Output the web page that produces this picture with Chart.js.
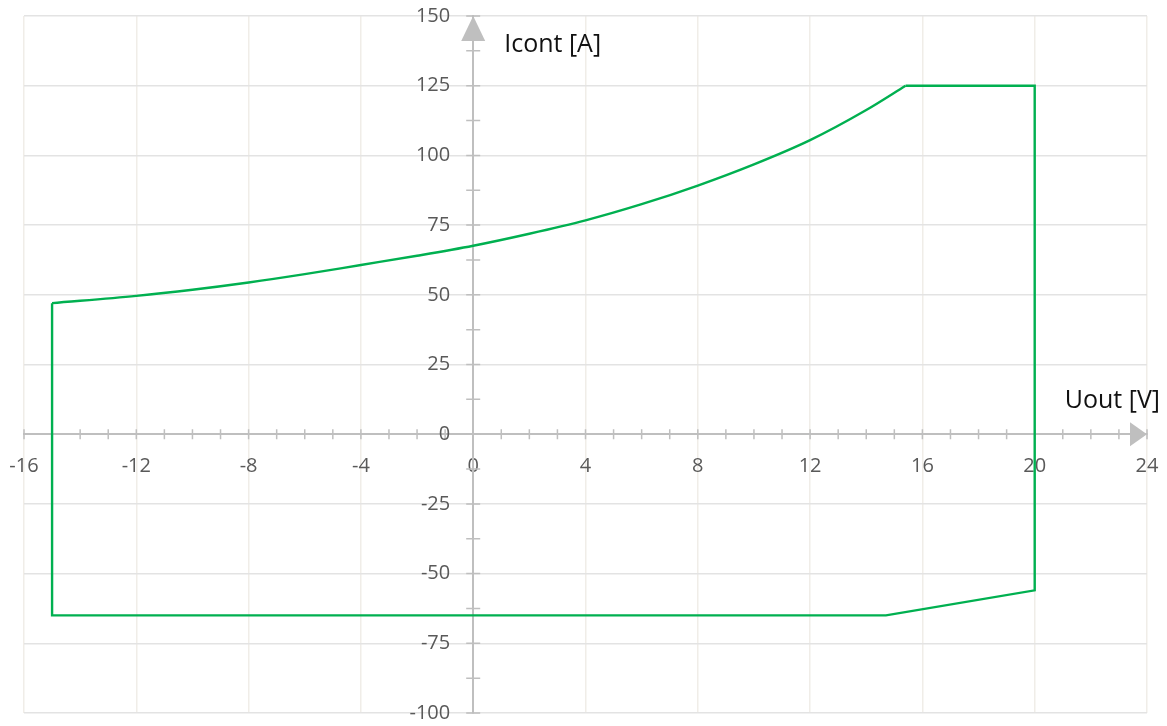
<!DOCTYPE html>
<html>
<head>
<meta charset="utf-8">
<script src="https://cdn.jsdelivr.net/npm/chart.js@4"></script>
<style>
  html, body { margin: 0; padding: 0; background: #fff; }
  #wrap { width: 1167px; height: 726px; }
</style>
</head>
<body>
<div id="wrap"><canvas id="chart"></canvas></div>
<script>
// upper curve (Icont vs Uout)
const curveU = [-15, -12, -10, -8, -6, -4, -2, 0, 2, 4, 6, 8, 10, 12, 14, 15.4];
const curveI = [47, 49.6, 51.8, 54.4, 57.4, 60.7, 64.0, 67.6, 71.9, 76.7, 82.5, 89.2, 96.8, 105.5, 116.3, 125];

// the straight part of the envelope
const outlineU = [15.4, 20, 20, 14.7, -15, -15];
const outlineI = [125, 125, -56, -65, -65, 47];

const uRange = [-16, 24];
const iRange = [-100, 150];
const uStep = 4;
const iStep = 25;
const uTitle = "Uout [V]";
const iTitle = "Icont [A]";

const green = "#00b050";
const axisGrey = "#bfbfbf";
const labelGrey = "#595959";
const fontFamily = '"Open Sans", "Liberation Sans", sans-serif';

function toPoints(xs, ys) {
  return xs.map((x, i) => ({ x: x, y: ys[i] }));
}

// centred axes should not eat into the plot area
function noPadding(scale) {
  scale.paddingLeft = 0;
  scale.paddingRight = 0;
  scale.paddingTop = 0;
  scale.paddingBottom = 0;
}

const axisDecor = {
  id: "axisDecor",
  beforeDatasetsDraw(chart) {
    const { ctx, scales } = chart;
    const sx = scales.x;
    const sy = scales.y;
    const x0 = sx.getPixelForValue(0);
    const y0 = sy.getPixelForValue(0);
    ctx.save();
    ctx.strokeStyle = axisGrey;
    ctx.lineWidth = 1.5;
    ctx.beginPath();
    // minor + major tick marks crossing the axes
    for (let u = uRange[0]; u <= uRange[1]; u += 1) {
      const px = sx.getPixelForValue(u);
      ctx.moveTo(px, y0 - 5);
      ctx.lineTo(px, y0 + 5);
    }
    for (let v = iRange[0]; v <= iRange[1]; v += iStep / 2) {
      const py = sy.getPixelForValue(v);
      ctx.moveTo(x0 - 7, py);
      ctx.lineTo(x0 + 7, py);
    }
    ctx.stroke();

    // arrow heads
    ctx.fillStyle = axisGrey;
    ctx.beginPath();
    ctx.moveTo(x0, sy.top);
    ctx.lineTo(x0 - 12, sy.top + 25);
    ctx.lineTo(x0 + 12, sy.top + 25);
    ctx.closePath();
    ctx.fill();
    ctx.beginPath();
    ctx.moveTo(sx.right, y0);
    ctx.lineTo(sx.right - 17, y0 - 12);
    ctx.lineTo(sx.right - 17, y0 + 12);
    ctx.closePath();
    ctx.fill();

    // y tick labels, left of the centred axis
    ctx.fillStyle = labelGrey;
    ctx.font = "20px " + fontFamily;
    ctx.textAlign = "right";
    ctx.textBaseline = "middle";
    sy.ticks.forEach((t) => {
      ctx.fillText(String(t.value), x0 - 23, sy.getPixelForValue(t.value));
    });

    // axis titles
    ctx.fillStyle = "#111";
    ctx.font = "25px " + fontFamily;
    ctx.textAlign = "left";
    ctx.fillText(iTitle, x0 + 31, sy.top + 29);
    ctx.textAlign = "right";
    ctx.fillText(uTitle, sx.right + 13, y0 - 33);
    ctx.restore();
  },
};

const ctx = document.getElementById("chart");
new Chart(ctx, {
  type: "line",
  data: {
    datasets: [
      {
        label: "curve",
        data: toPoints(curveU, curveI),
        borderColor: green,
        borderWidth: 2.4,
        pointRadius: 0,
        cubicInterpolationMode: "monotone",
        fill: false,
      },
      {
        label: "outline",
        data: toPoints(outlineU, outlineI),
        borderColor: green,
        borderWidth: 2.4,
        pointRadius: 0,
        tension: 0,
        fill: false,
      },
    ],
  },
  options: {
    responsive: true,
    maintainAspectRatio: false,
    animation: false,
    layout: {
      padding: { left: 24, right: 20, top: 16, bottom: 13 },
    },
    plugins: {
      legend: { display: false },
      tooltip: { enabled: false },
    },
    scales: {
      x: {
        type: "linear",
        position: { y: 0 },
        min: uRange[0],
        max: uRange[1],
        afterFit: noPadding,
        ticks: {
          stepSize: uStep,
          autoSkip: false,
          maxRotation: 0,
          padding: 20,
          color: labelGrey,
          font: { family: fontFamily, size: 20 },
        },
        grid: { color: "#f0ede8", lineWidth: 1.5, drawTicks: false },
        border: { display: true, color: axisGrey, width: 2 },
      },
      y: {
        type: "linear",
        position: { x: 0 },
        min: iRange[0],
        max: iRange[1],
        afterFit: noPadding,
        ticks: {
          display: false,
          stepSize: iStep,
          autoSkip: false,
        },
        grid: { color: "#e3e3e3", lineWidth: 1.5, drawTicks: false },
        border: { display: true, color: axisGrey, width: 2 },
      },
    },
  },
  plugins: [axisDecor],
});
</script>
</body>
</html>
